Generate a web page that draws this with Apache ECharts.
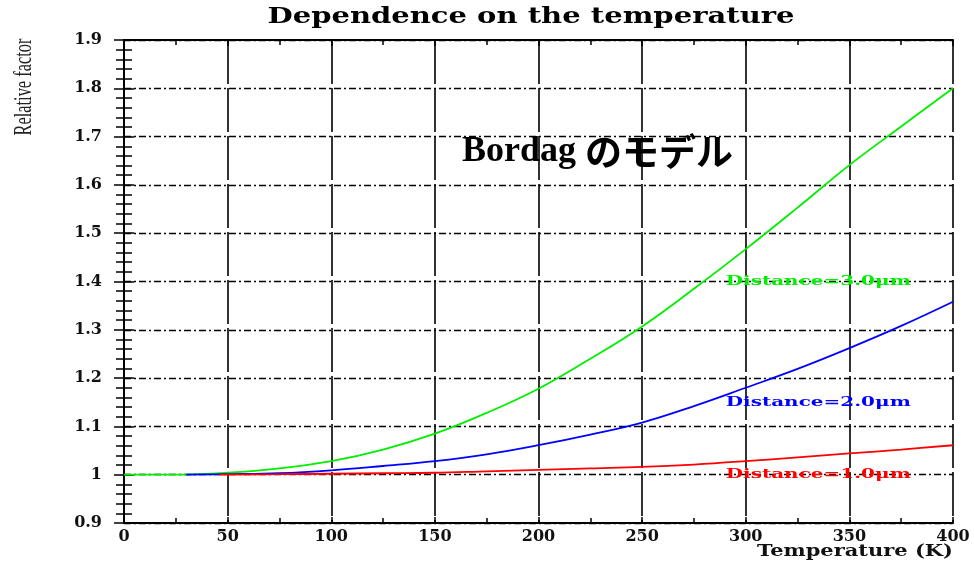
<!DOCTYPE html>
<html>
<head>
<meta charset="utf-8">
<script src="https://cdn.jsdelivr.net/npm/echarts@6/dist/echarts.min.js"></script>
<style>
  html, body { margin: 0; padding: 0; background: #fff; }
  #chart { width: 974px; height: 564px; }
</style>
</head>
<body>
<div id="chart"></div>
<script>
// Relative thermal correction factor vs temperature (Bordag model)
const tempsD3 = [0, 25, 50, 75, 100, 125, 150, 175, 200, 225, 250, 275, 300, 325, 350, 375, 400];
const factorD3 = [1.000, 1.000, 1.004, 1.013, 1.028, 1.052, 1.085, 1.128, 1.178, 1.240, 1.307, 1.385, 1.467, 1.553, 1.641, 1.721, 1.800];

const tempsD2 = [30, 50, 75, 100, 125, 150, 175, 200, 225, 250, 275, 300, 325, 350, 375, 400];
const factorD2 = [1.000, 1.001, 1.003, 1.009, 1.018, 1.028, 1.042, 1.061, 1.083, 1.108, 1.142, 1.180, 1.219, 1.262, 1.308, 1.358];

const tempsD1 = [46, 75, 100, 125, 150, 175, 200, 225, 250, 275, 300, 325, 350, 375, 400];
const factorD1 = [1.000, 1.001, 1.002, 1.003, 1.004, 1.007, 1.010, 1.013, 1.016, 1.021, 1.028, 1.036, 1.044, 1.052, 1.061];

const seriesNames = ['Distance=3.0\u03bcm', 'Distance=2.0\u03bcm', 'Distance=1.0\u03bcm'];
const seriesColors = ['#00ee00', '#0000ff', '#ff0000'];
// where each curve's caption sits, in data units [temperature, factor]
const captionAnchors = [[335, 1.40], [335, 1.149], [335, 1.0]];

const titleText = 'Dependence on the temperature';
const xName = 'Temperature (K)';
const yName = 'Relative factor';

const pair = (xs, ys) => xs.map((x, i) => [x, ys[i]]);

const chart = echarts.init(document.getElementById('chart'), null, { renderer: 'canvas' });

const labelFont = { fontFamily: '"DejaVu Serif"', fontWeight: 'bold', fontSize: 16, color: '#111' };
const gridDash = { color: '#000', width: 1.3, type: [7, 3, 2, 3] };
const gridSolid = { color: '#000', width: 1.6, type: [44, 4] };

const xBase = { type: 'value', min: 0, max: 400, interval: 50 };
const yBase = { type: 'value', min: 0.9, max: 1.9, interval: 0.1 };

chart.setOption({
  animation: false,
  backgroundColor: '#fff',
  grid: { left: 124, right: 21, top: 40, bottom: 41, containLabel: false },
  xAxis: [
    Object.assign({}, xBase, {
      position: 'bottom',
      axisLine: { show: true, lineStyle: { color: '#000', width: 2 } },
      axisTick: { show: true, inside: true, length: 6, lineStyle: { color: '#000', width: 1.5 } },
      minorTick: { show: true, splitNumber: 2, length: 5, lineStyle: { color: '#000', width: 1.5 } },
      axisLabel: Object.assign({ margin: 6 }, labelFont),
      splitLine: { show: true, lineStyle: gridSolid }
    }),
    Object.assign({}, xBase, {
      position: 'top',
      axisLine: { show: true, lineStyle: { color: '#000', width: 2 } },
      axisTick: { show: true, inside: true, length: 6, lineStyle: { color: '#000', width: 1.5 } },
      minorTick: { show: true, splitNumber: 2, length: 5, lineStyle: { color: '#000', width: 1.5 } },
      axisLabel: { show: false },
      splitLine: { show: false }
    })
  ],
  yAxis: [
    Object.assign({}, yBase, {
      position: 'left',
      axisLine: { show: true, lineStyle: { color: '#000', width: 2 } },
      axisTick: { show: true, inside: true, length: 10, lineStyle: { color: '#000', width: 1.5 } },
      minorTick: { show: true, splitNumber: 5, length: 8, lineStyle: { color: '#000', width: 1.5 } },
      axisLabel: Object.assign({ margin: 22 }, labelFont),
      splitLine: { show: true, lineStyle: gridDash }
    }),
    Object.assign({}, yBase, {
      position: 'right',
      axisLine: { show: true, lineStyle: { color: '#000', width: 2 } },
      axisTick: { show: true, inside: true, length: 10, lineStyle: { color: '#000', width: 1.5 } },
      minorTick: { show: true, splitNumber: 5, length: 8, lineStyle: { color: '#000', width: 1.5 } },
      axisLabel: { show: false },
      splitLine: { show: false }
    })
  ],
  series: [
    { name: seriesNames[0], type: 'line', data: pair(tempsD3, factorD3) },
    { name: seriesNames[1], type: 'line', data: pair(tempsD2, factorD2) },
    { name: seriesNames[2], type: 'line', data: pair(tempsD1, factorD1) }
  ].map((s, i) => Object.assign(s, {
    xAxisIndex: 0, yAxisIndex: 0, smooth: 0.4, showSymbol: false, symbol: 'none',
    lineStyle: { color: seriesColors[i], width: 1.8 }, itemStyle: { color: seriesColors[i] }, z: 5 + i
  }))
});

// stretch text horizontally so it spans a given width
const measureCtx = document.createElement('canvas').getContext('2d');
function stretch(text, font, width) {
  measureCtx.font = font;
  return width / measureCtx.measureText(text).width;
}

const titleFont = 'bold 22px "DejaVu Serif"';
const xNameFont = 'bold 17px "DejaVu Serif"';
const yNameFont = '26px "Liberation Serif"';
const captionFont = 'bold 13px "DejaVu Serif"';

const graphics = [
  { type: 'text', x: 531, y: 17, scaleX: stretch(titleText, titleFont, 527),
    style: { text: titleText, font: titleFont, fill: '#000', align: 'center', verticalAlign: 'middle' } },
  { type: 'text', x: 953, y: 552, scaleX: stretch(xName, xNameFont, 196),
    style: { text: xName, font: xNameFont, fill: '#111', align: 'right', verticalAlign: 'middle' } },
  { type: 'text', x: 24, y: 87, rotation: Math.PI / 2, scaleX: stretch(yName, yNameFont, 97),
    style: { text: yName, font: yNameFont, fill: '#222', align: 'center', verticalAlign: 'middle' } },
  { type: 'text', x: 462, y: 152,
    style: {
      text: '{a|Bordag }{b|のモデル}', align: 'left', verticalAlign: 'middle',
      rich: {
        a: { font: 'bold 36px "Liberation Serif"', fill: '#000' },
        b: { font: 'bold 37px "Noto Sans CJK JP"', fill: '#000' }
      }
    } }
];

captionAnchors.forEach((anchor, i) => {
  const p = chart.convertToPixel({ xAxisIndex: 0, yAxisIndex: 0 }, anchor);
  graphics.push({
    type: 'text', x: p[0], y: p[1], z: 20, scaleX: stretch(seriesNames[i], captionFont, 185),
    style: { text: seriesNames[i], font: captionFont, fill: seriesColors[i], align: 'center', verticalAlign: 'middle' }
  });
});

chart.setOption({ graphic: graphics });
</script>
</body>
</html>
